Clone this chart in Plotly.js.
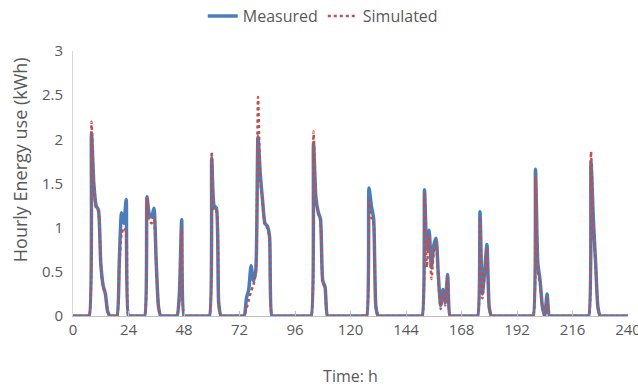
<!DOCTYPE html>
<html>
<head>
<meta charset="utf-8">
<script src="https://cdn.plot.ly/plotly-3.0.1.min.js"></script>
<style>html,body{margin:0;padding:0;background:#fff;}#chart{width:638px;height:387px;}</style>
</head>
<body>
<div id="chart"></div>
<script>
// Hourly energy use (kWh), hours 0..240, one row per day
const measured = [
  0,0,0,0,0,0,0,0,2.07,1.5,1.25,1.2,0.6,0.35,0.25,0.05,0,0,0,0,0.6,1.17,1.05,1.32,
  0,0,0,0,0,0,0,0,1.35,1.15,1.12,1.22,0.6,0.1,0,0,0,0,0,0,0,0,0.25,1.09,
  0,0,0,0,0,0,0,0,0,0,0,0,1.79,1.25,1.22,0.15,0,0,0,0,0,0,0,0,
  0,0,0,0.2,0.3,0.57,0.4,0.5,2.03,1.6,1.3,1.05,1.02,0.9,0,0,0,0,0,0,0,0,0,0,
  0,0,0,0,0,0,0,0,1.96,1.35,1.18,1.1,0.4,0.33,0,0,0,0,0,0,0,0,0,0,
  0,0,0,0,0,0,0,0,1.45,1.25,1.1,0.1,0,0,0,0,0,0,0,0,0,0,0,0,
  0,0,0,0,0,0,0,0,1.43,0.75,0.97,0.55,0.8,0.88,0.45,0.12,0.3,0.15,0.47,0,0,0,0,0,
  0,0,0,0,0,0,0,0,1.18,0.25,0.5,0.81,0.1,0,0,0,0,0,0,0,0,0,0,0,
  0,0,0,0,0,0,0,0,1.66,0.6,0.4,0.1,0,0.25,0,0,0,0,0,0,0,0,0,0,
  0,0,0,0,0,0,0,0,1.75,1.1,0.6,0.1,0,0,0,0,0,0,0,0,0,0,0,0,
  0
];
const simulated = [
  0,0,0,0,0,0,0,0,2.2,1.45,1.22,1.18,0.58,0.33,0.24,0.05,0,0,0,0,0.55,0.93,1.0,0.95,
  0,0,0,0,0,0,0,0,1.33,1.08,1.05,1.12,0.58,0.1,0,0,0,0,0,0,0,0,0.2,1.0,
  0,0,0,0,0,0,0,0,0,0,0,0,1.86,1.2,1.2,0.13,0,0,0,0,0,0,0,0,
  0,0,0,0.08,0.18,0.28,0.35,0.5,2.48,1.55,1.28,1.03,1.0,0.88,0,0,0,0,0,0,0,0,0,0,
  0,0,0,0,0,0,0,0,2.09,1.35,1.16,1.08,0.38,0.31,0,0,0,0,0,0,0,0,0,0,
  0,0,0,0,0,0,0,0,1.31,1.12,1.04,0.1,0,0,0,0,0,0,0,0,0,0,0,0,
  0,0,0,0,0,0,0,0,1.38,0.55,0.92,0.42,0.72,0.82,0.4,0.08,0.27,0.12,0.44,0,0,0,0,0,
  0,0,0,0,0,0,0,0,1.12,0.2,0.48,0.76,0.08,0,0,0,0,0,0,0,0,0,0,0,
  0,0,0,0,0,0,0,0,1.58,0.52,0.35,0.08,0,0.22,0,0,0,0,0,0,0,0,0,0,
  0,0,0,0,0,0,0,0,1.86,1.05,0.58,0.1,0,0,0,0,0,0,0,0,0,0,0,0,
  0
];
const hours = measured.map((_, i) => i);
const xTicks = [0,24,48,72,96,120,144,168,192,216,240];
const yTicks = [0,0.5,1,1.5,2,2.5,3];
const seriesNames = ['Measured', 'Simulated'];
const yTitle = 'Hourly Energy use (kWh)';

const fontFam = '"Open Sans", "Noto Sans", sans-serif';
const grey = '#595959';

const traces = [
  {x: hours, y: measured, name: seriesNames[0], type: 'scatter', mode: 'lines',
   line: {color: '#4A7EBB', width: 3.5, shape: 'spline', smoothing: 0.6}},
  {x: hours, y: simulated, name: seriesNames[1], type: 'scatter', mode: 'lines',
   line: {color: '#C0504D', width: 2.5, dash: 'dot', shape: 'spline', smoothing: 0.6}}
];

const layout = {
  width: 638, height: 387,
  margin: {l: 73, r: 10, t: 51, b: 71, autoexpand: false},
  paper_bgcolor: '#fff', plot_bgcolor: '#fff',
  font: {family: fontFam, size: 15, color: grey},
  showlegend: true,
  legend: {orientation: 'h', x: 0.45, xanchor: 'center', y: 1.132, yanchor: 'middle',
           itemwidth: 30, font: {family: fontFam, size: 16, color: grey}},
  xaxis: {
    range: [0, 240], tickvals: xTicks, ticktext: xTicks.map(String),
    ticklabeloverflow: 'allow',
    showgrid: false, zeroline: false, showline: true, linecolor: '#BFBFBF', linewidth: 1,
    ticks: 'inside', ticklen: 5, tickcolor: '#BFBFBF',
    tickfont: {family: fontFam, size: 15, color: grey},
    title: {text: 'Time: h', font: {family: fontFam, size: 16, color: grey}, standoff: 32}
  },
  yaxis: {
    range: [0, 3], tickvals: yTicks, ticktext: yTicks.map(String),
    showgrid: false, zeroline: false, showline: true, linecolor: '#D9D9D9', linewidth: 1,
    ticks: '', ticklabelstandoff: 6,
    tickfont: {family: fontFam, size: 15, color: grey}
  },
  annotations: [{
    text: yTitle, textangle: -90, showarrow: false,
    xref: 'paper', yref: 'paper', x: -0.095, y: 0.589, xanchor: 'center', yanchor: 'middle',
    font: {family: fontFam, size: 18, color: grey}
  }]
};

Plotly.newPlot('chart', traces, layout, {displayModeBar: false, staticPlot: true});
</script>
</body>
</html>
